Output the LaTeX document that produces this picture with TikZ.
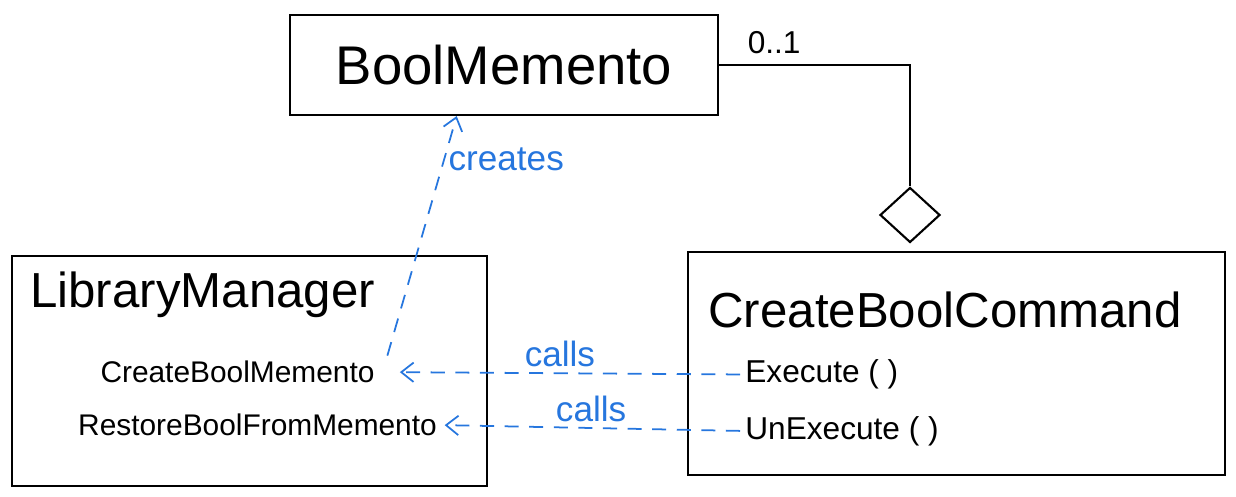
\documentclass[tikz,border=0pt]{standalone}
\usepackage{fontspec}
\setmainfont{Liberation Sans}
\usepackage{xcolor}
\usepackage{tikz}
\usetikzlibrary{arrows.meta, positioning, calc, shapes.geometric}
\definecolor{penblue}{RGB}{38,118,222}

\begin{document}
\begin{tikzpicture}[
  classbox/.style={draw, rectangle, line width=1.2pt, inner sep=0pt},
  title/.style={font=\fontsize{28}{32}\selectfont, inner sep=0pt},
  method/.style={font=\fontsize{17}{20}\selectfont, inner sep=0pt},
  agg/.style={draw, diamond, line width=1.2pt, minimum width=1.2cm, minimum height=1.1cm, inner sep=0pt, fill=white},
  dep/.style={penblue, line width=1pt, dashed, dash pattern=on 8pt off 6pt, -{Straight Barb[length=7pt, width=11pt]}},
  lbl/.style={text=penblue, font=\fontsize{20}{24}\selectfont, inner sep=2pt}
]
\useasboundingbox (0,0) rectangle (24.72,9.94);

\node[classbox, minimum width=8.56cm, minimum height=2cm] (memento) at (10.08,8.64) {};
\node[title, font=\fontsize{31}{36}\selectfont] (mementoname) at (memento) {BoolMemento};
\node[font=\fontsize{18}{22}\selectfont, anchor=south west] (mult) at ($(memento.east)+(0.45,0.1)$) {0..1};

\node[classbox, minimum width=9.5cm, minimum height=4.6cm] (manager) at (4.99,2.52) {};
\node[title, anchor=west] (managername) at (0.6,4.04) {LibraryManager};
\node[method] (createm) at (4.75,2.5) {CreateBoolMemento};
\node[method] (restore) at (5.15,1.44) {RestoreBoolFromMemento};

\node[classbox, minimum width=10.74cm, minimum height=4.46cm] (command) at (19.13,2.67) {};
\node[title] (commandname) at (18.9,3.74) {CreateBoolCommand};
\node[method, font=\fontsize{18}{22}\selectfont, anchor=west] (execute) at (14.9,2.45) {Execute ( )};
\node[method, font=\fontsize{18}{22}\selectfont, anchor=west] (unexecute) at (14.9,1.32) {UnExecute ( )};

\node[agg] (diam) at (18.2,5.64) {};

\draw[line width=1.2pt] (memento.east) -- (memento.east -| diam.north) -- (diam.north);

\draw[dep] ($(createm.north east)+(0.25,0.1)$) -- ($(memento.south west)!0.39!(memento.south east)$)
  node[lbl, pos=0.82, anchor=west] (createslbl) {creates};
\draw[dep, shorten >=0.5cm, shorten <=0.1cm] (execute.west) -- (createm.east)
  node[lbl, midway, above=1pt] (callslbl1) {calls};
\draw[dep, shorten >=0.15cm, shorten <=0.1cm] (unexecute.west) -- (restore.east)
  node[lbl, midway, above=1pt] (callslbl2) {calls};
\end{tikzpicture}
\end{document}
